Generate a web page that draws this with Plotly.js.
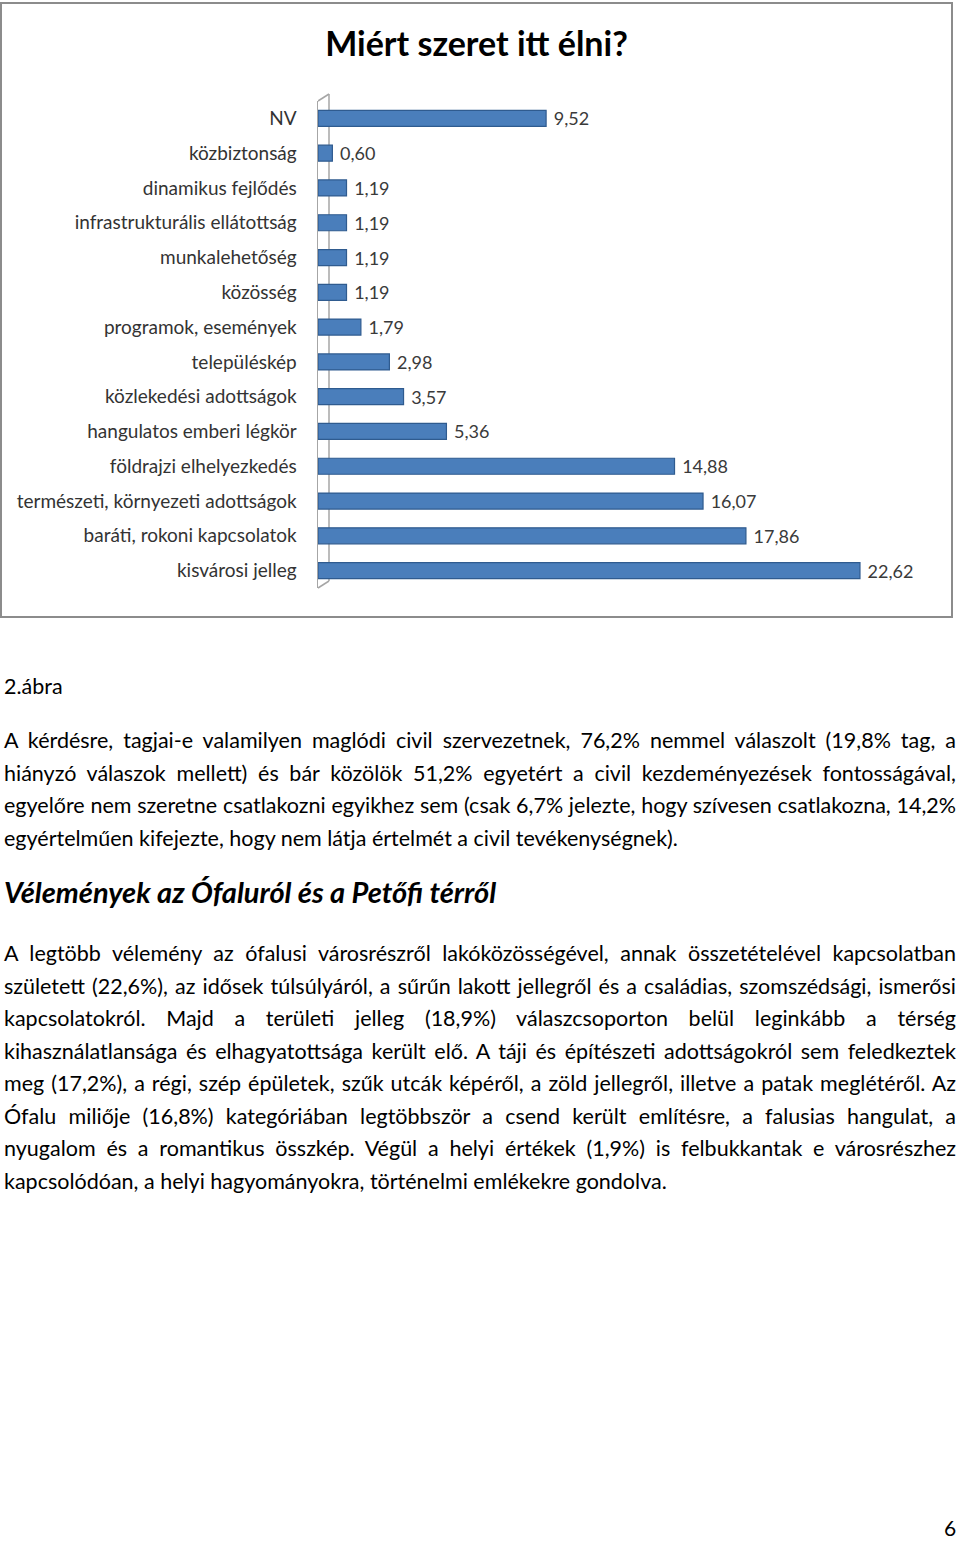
<!DOCTYPE html>
<html>
<head>
<meta charset="utf-8">
<script src="https://cdn.plot.ly/plotly-3.0.1.min.js"></script>
<style>
  body { margin: 0; background: #fff; width: 960px; height: 1541px; position: relative; font-family: Lato, "Open Sans", sans-serif; color: #000; }
  #chartBox { position: absolute; left: 0; top: 2px; width: 949px; height: 612px; border: 2px solid #8c8c8c; }
  #myDiv { width: 949px; height: 612px; }
  .txt { position: absolute; left: 4px; width: 952px; font-size: 21.5px; line-height: 32.5px; }
  .ln { white-space: nowrap; text-align: justify; text-align-last: justify; }
  .ln.last { text-align-last: left; }
  #heading { position: absolute; left: 4px; top: 874px; font-size: 29px; font-weight: bold; font-style: italic; }
  #pageNo { position: absolute; left: 944px; top: 1515px; font-size: 21px; }
</style>
</head>
<body>
<div id="chartBox"><div id="myDiv"></div></div>

<div class="txt" style="top:670px">2.ábra</div>

<div class="txt" style="top:724px">
  <div class="ln">A kérdésre, tagjai-e valamilyen maglódi civil szervezetnek, 76,2% nemmel válaszolt (19,8% tag, a</div>
  <div class="ln">hiányzó válaszok mellett) és bár közölök 51,2% egyetért a civil kezdeményezések fontosságával,</div>
  <div class="ln">egyelőre nem szeretne csatlakozni egyikhez sem (csak 6,7% jelezte, hogy szívesen csatlakozna, 14,2%</div>
  <div class="ln last">egyértelműen kifejezte, hogy nem látja értelmét a civil tevékenységnek).</div>
</div>

<div id="heading">Vélemények az Ófaluról és a Petőfi térről</div>

<div class="txt" style="top:937px">
  <div class="ln">A legtöbb vélemény az ófalusi városrészről lakóközösségével, annak összetételével kapcsolatban</div>
  <div class="ln">született (22,6%), az idősek túlsúlyáról, a sűrűn lakott jellegről és a családias, szomszédsági, ismerősi</div>
  <div class="ln">kapcsolatokról. Majd a területi jelleg (18,9%) válaszcsoporton belül leginkább a térség</div>
  <div class="ln">kihasználatlansága és elhagyatottsága került elő. A táji és építészeti adottságokról sem feledkeztek</div>
  <div class="ln">meg (17,2%), a régi, szép épületek, szűk utcák képéről, a zöld jellegről, illetve a patak meglétéről. Az</div>
  <div class="ln">Ófalu miliője (16,8%) kategóriában legtöbbször a csend került említésre, a falusias hangulat, a</div>
  <div class="ln">nyugalom és a romantikus összkép. Végül a helyi értékek (1,9%) is felbukkantak e városrészhez</div>
  <div class="ln last">kapcsolódóan, a helyi hagyományokra, történelmi emlékekre gondolva.</div>
</div>

<div id="pageNo">6</div>

<script>
// reasons, listed top to bottom as in the chart
const categories = [
  "NV",
  "közbiztonság",
  "dinamikus fejlődés",
  "infrastrukturális ellátottság",
  "munkalehetőség",
  "közösség",
  "programok, események",
  "településkép",
  "közlekedési adottságok",
  "hangulatos emberi légkör",
  "földrajzi elhelyezkedés",
  "természeti, környezeti adottságok",
  "baráti, rokoni kapcsolatok",
  "kisvárosi jelleg",
];

const percentValues = [9.52, 0.6, 1.19, 1.19, 1.19, 1.19, 1.79, 2.98, 3.57, 5.36, 14.88, 16.07, 17.86, 22.62];

// labels use decimal comma, with a small gap before them
const valueLabels = percentValues.map((v) => "\u00a0" + v.toFixed(2).replace(".", ","));

const chartTitle = "Miért szeret itt élni?";

var trace1 = {
  type: "bar",
  orientation: "h",
  y: categories,
  x: percentValues,
  text: valueLabels,
  textposition: "outside",
  constraintext: "none",
  cliponaxis: false,
  textfont: { family: "Lato, sans-serif", size: 18, color: "#3a3a3a" },
  marker: { color: "#4a7ebb", line: { color: "#2f5b8f", width: 1.2 } },
  hoverinfo: "none",
};

var layout = {
  width: 949,
  height: 612,
  margin: { l: 316, r: 34, t: 97, b: 28 },
  paper_bgcolor: "#fff",
  plot_bgcolor: "#fff",
  showlegend: false,
  bargap: 0.54,
  font: { family: "Lato, sans-serif", color: "#333" },
  title: {
    text: "<b>" + chartTitle + "</b>",
    font: { family: "Lato, sans-serif", size: 34, color: "#000" },
    x: 0.5,
    xanchor: "center",
    yref: "container",
    y: 0.934,
    yanchor: "middle",
  },
  xaxis: {
    range: [0, 25],
    showticklabels: false,
    showgrid: false,
    zeroline: false,
    showline: false,
    ticks: "",
    fixedrange: true,
  },
  yaxis: {
    type: "category",
    autorange: "reversed",
    showgrid: false,
    zeroline: false,
    showline: true,
    linecolor: "#a6a6a6",
    linewidth: 1.5,
    ticks: "",
    ticklabelstandoff: 16,
    tickfont: { family: "Lato, sans-serif", size: 19, color: "#333" },
    fixedrange: true,
  },
  // thin 3D wall behind the bars
  shapes: [
    {
      type: "line", layer: "below", xref: "x", xsizemode: "pixel", xanchor: 0,
      yref: "paper", ysizemode: "pixel", yanchor: 1,
      x0: 0, x1: 11, y0: 0, y1: 7,
      line: { color: "#a6a6a6", width: 1.5 },
    },
    {
      type: "line", layer: "below", xref: "x", xsizemode: "pixel", xanchor: 0,
      yref: "paper", ysizemode: "pixel", yanchor: 0,
      x0: 0, x1: 11, y0: 0, y1: 7,
      line: { color: "#a6a6a6", width: 1.5 },
    },
    {
      type: "line", layer: "below", xref: "x", xsizemode: "pixel", xanchor: 0,
      yref: "paper", x0: 11, x1: 11, y0: 0.0144, y1: 1.0144,
      line: { color: "#a6a6a6", width: 1.5 },
    },
  ],
};

Plotly.newPlot("myDiv", [trace1], layout, { staticPlot: true, displayModeBar: false });
</script>
</body>
</html>
